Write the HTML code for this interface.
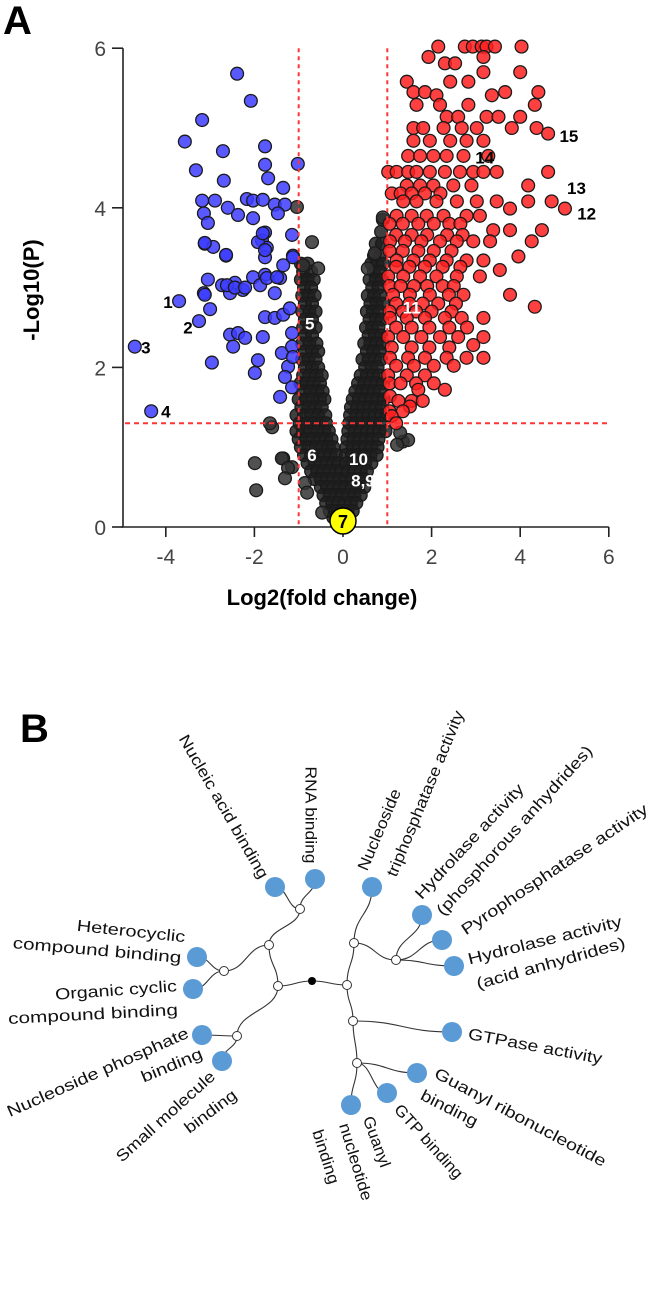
<!DOCTYPE html>
<html><head><meta charset="utf-8">
<style>
html,body{margin:0;padding:0;background:#fff;width:649px;height:1294px;overflow:hidden}
svg{display:block}
text{font-family:"Liberation Sans",Arial,sans-serif}
</style></head>
<body>
<svg id="chart" width="649" height="1294" viewBox="0 0 649 1294">
  <text x="3" y="34" font-size="40" font-weight="bold" fill="#000">A</text>
  <g id="plotA"></g>
  <text x="322" y="605" font-size="22" font-weight="bold" text-anchor="middle" fill="#000">Log2(fold change)</text>
  <text transform="translate(39,290) rotate(-90)" font-size="22" font-weight="bold" text-anchor="middle" fill="#000">-Log10(P)</text>
  <text x="20" y="742" font-size="40" font-weight="bold" fill="#000">B</text>
  <g id="tree"></g>
</svg>
<script>
// ---------- Panel A data ----------
const xTicks=[-4,-2,0,2,4,6];
const yTicks=[0,2,4,6];
const blueX=[-2.39,-2.08,-3.18,-3.57,-2.71,-1.76,-3.32,-1.76,-1.02,-2.69,-1.69,-1.35,-3.18,-2.89,-2.60,-2.17,-2.03,-1.81,-1.54,-1.31,-1.47,-2.37,-2.03,-3.14,-3.05,-1.76,-1.15,-1.83,-3.12,-2.93,-2.64,-1.72,-1.76,-1.35,-1.13,-3.05,-2.73,-2.44,-2.03,-1.76,-1.42,-2.26,-3.14,-2.55,-1.87,-1.54,-3.70,-3.25,-4.70,-4.33,-3.00,-3.12,-2.62,-2.44,-2.21,-2.55,-2.37,-2.21,-2.48,-2.96,-1.81,-1.92,-1.99,-1.76,-1.54,-1.35,-1.20,-1.38,-1.42,-1.24,-1.31,-1.15,-1.15,-1.15,-1.13,-1.72,-1.49,-1.92,-1.76,-1.13,-1.81,-3.12,-2.64];
const blueY=[5.68,5.34,5.10,4.83,4.71,4.77,4.47,4.54,4.55,4.34,4.37,4.25,4.09,4.09,4.00,4.11,4.09,4.10,4.04,4.04,3.93,3.91,3.87,3.93,3.81,3.69,3.66,3.59,3.55,3.51,3.40,3.50,3.38,3.28,3.40,3.10,3.03,3.06,3.13,3.16,3.12,2.97,2.93,2.93,3.03,2.93,2.83,2.58,2.26,1.45,2.73,2.91,3.03,3.00,3.00,2.41,2.43,2.37,2.26,2.06,2.38,2.09,1.93,2.63,2.62,2.66,2.74,2.18,1.63,2.01,1.88,1.75,2.43,2.26,2.13,3.12,3.13,3.57,3.47,3.38,3.68,3.56,3.41];
const redRowY=[6.02,5.89,5.81,5.70,5.58,5.45,5.41,5.29,5.14,5.00,4.93,4.84,4.65,4.45,4.28,4.18,4.08,3.99,3.90,3.80,3.72,3.66,3.58,3.46,3.39,3.34,3.26,3.22,3.14,3.02,2.91,2.80,2.76,2.70,2.62,2.50,2.38,2.28,2.25,2.12,2.02,1.90,1.80,1.72,1.64,1.58,1.51,1.45,1.39,1.30];
const redRowX=[[2.15,2.75,2.93,3.13,3.24,3.43,4.03],[1.93,3.17],[2.30,2.53],[3.17,4.00],[1.44,2.42,2.83],[1.59,1.85,3.66,4.41],[2.11,3.36],[1.66,2.19,2.83,4.33],[2.34,2.60,3.24,3.51,4.00],[1.59,1.81,2.27,2.68,3.02,3.81,4.37],[4.63],[1.59,1.96,2.42,2.79,3.17],[1.47,1.74,2.04,2.34,2.72,3.28],[1.02,1.21,1.47,1.66,1.96,2.30,2.64,2.94,3.17,3.47,4.63],[1.44,1.74,2.04,2.49,2.90,4.18],[1.10,1.30,1.55,1.85,2.20],[1.36,1.66,2.11,2.57,3.02,3.47,4.18,4.71],[5.01,3.77],[1.21,1.55,1.89,2.27,2.79,3.09],[1.05,1.35,1.70,2.05,2.40,2.65],[3.39,3.77,4.49],[1.20,1.55,1.90,2.35,2.70],[1.06,1.40,1.77,2.19,2.57,2.94,3.32,4.26],[1.05,1.35,1.70,2.05,2.45],[3.96],[1.21,1.59,1.96,2.34,2.79,3.17],[1.20,1.50,1.85,2.25,2.65],[3.54],[1.02,1.36,1.74,2.11,2.57,3.09],[1.05,1.30,1.60,1.90,2.25,2.50],[1.13,1.51,1.96,2.39,2.72,3.77],[1.20,1.50,1.80,2.15,2.55],[4.33],[1.05,1.35,1.65,2.00,2.45],[1.06,1.44,1.85,2.30,2.68,3.17],[1.20,1.55,1.95,2.40,2.80],[1.02,1.36,1.77,2.19,2.60,3.17],[2.94],[1.10,1.55,1.95,2.40],[1.06,1.47,1.85,2.34,2.79,3.17],[1.20,1.60,2.05,2.50],[1.02,1.44,1.85],[1.05,1.30,1.65,2.05],[1.70,2.30],[1.06],[1.25,1.55,1.80],[1.51],[1.05,1.35],[1.10],[1.20]];
const blackRowY=[3.3,3.2,3.1,3.0,2.9,2.8,2.7,2.6,2.5,2.4,2.3,2.2,2.1,2.0,1.9,1.8,1.7,1.6,1.5,1.4,1.3,1.2,1.1,1.0,0.9,0.8,0.7,0.6,0.5,0.4,0.3,0.2,0.12,
 3.85,3.7,3.55,3.4,3.3,3.2,3.1,3.0,2.9,2.8,2.7,2.6,2.5,2.4,2.3,2.2,2.1,2.0,1.9,1.8,1.7,1.6,1.5,1.4,1.3,1.2,1.1,1.0,0.9,0.8,0.7,0.6,0.5,0.4,0.3,0.2];
const blackRowX=[[-0.95,-0.80],[-0.90,-0.72],[-0.95,-0.80,-0.66],[-0.88,-0.72],[-0.92,-0.78,-0.64],[-0.86,-0.70],[-0.92,-0.76,-0.62],[-0.86,-0.70],[-0.90,-0.76,-0.62],[-0.86,-0.70],[-0.92,-0.76,-0.60],[-0.86,-0.70,-0.56],[-0.92,-0.78,-0.62],[-0.86,-0.70,-0.56],[-0.90,-0.76,-0.60,-0.48],[-0.96,-0.82,-0.66,-0.52],[-0.90,-0.74,-0.58,-0.46],[-1.00,-0.84,-0.68,-0.52,-0.42],[-0.94,-0.78,-0.62,-0.48],[-1.05,-0.88,-0.72,-0.56,-0.40],[-0.98,-0.82,-0.66,-0.50,-0.38],[-1.05,-0.90,-0.74,-0.58,-0.42,-0.32],[-1.00,-0.84,-0.68,-0.52,-0.38,-0.26],[-0.95,-0.78,-0.62,-0.46,-0.32,-0.22],[-0.88,-0.72,-0.56,-0.42,-0.28,-0.16],[-0.80,-0.64,-0.50,-0.36,-0.22,-0.10],[-0.72,-0.58,-0.44,-0.30,-0.16,-0.04],[-0.64,-0.50,-0.36,-0.22,-0.08,0.06],[-0.50,-0.36,-0.22,-0.08,0.06],[-0.44,-0.30,-0.16,-0.02],[-0.38,-0.24,-0.10,0.04],[-0.30,-0.16,-0.02],[-0.22,-0.08],
 [0.90],[0.86],[0.74,0.88],[0.70,0.84],[0.64,0.78,0.90],[0.70,0.84],[0.60,0.74,0.88],[0.66,0.80],[0.56,0.70,0.84],[0.62,0.76,0.90],[0.54,0.68,0.82],[0.60,0.74,0.88],[0.52,0.66,0.80],[0.58,0.72,0.86],[0.48,0.62,0.76,0.90],[0.54,0.68,0.82],[0.44,0.58,0.72,0.86],[0.50,0.64,0.78],[0.40,0.54,0.68,0.82],[0.34,0.48,0.62,0.76,0.90],[0.28,0.42,0.56,0.70,0.84],[0.22,0.36,0.50,0.64,0.78,0.92],[0.18,0.32,0.46,0.60,0.74,0.88],[0.16,0.30,0.44,0.58,0.72,0.86,1.00],[0.14,0.28,0.42,0.56,0.70,0.84],[0.12,0.26,0.40,0.54,0.68,0.82,0.96],[0.10,0.24,0.38,0.52,0.66,0.80],[0.08,0.22,0.36,0.50,0.64,0.78],[0.06,0.20,0.34,0.48,0.62,0.76],[0.08,0.22,0.36,0.50,0.64],[0.12,0.26,0.40,0.54],[0.20,0.34,0.48],[0.20,0.34,0.48],[0.12,0.26,0.40],[0.18,0.30],[0.10,0.22]];
const blackX=[-1.99,-1.96,-1.60,-1.35,-1.15,-0.86,-0.70,-0.56,-0.90,0.56,0.72,0.90,1.35,1.47,1.29,1.22,-1.04,-1.65,-1.38,-1.24,-1.31,-0.81,-0.47];
const blackY=[0.80,0.46,1.25,0.86,0.75,0.55,3.57,3.24,3.28,3.24,3.43,3.88,1.07,1.09,1.18,1.03,4.01,1.30,0.86,0.74,0.61,0.43,0.18];
const labelText=["1","2","3","4","5","6","10","8,9","11","12","13","14","15"];
const labelX=[-3.95,-3.5,-4.45,-4.0,-0.75,-0.70,0.35,0.45,1.55,5.50,5.27,3.20,5.10];
const labelY=[2.82,2.50,2.25,1.45,2.55,0.90,0.85,0.58,2.75,3.93,4.25,4.63,4.90];
const labelColor=["#000","#000","#000","#000","#fff","#fff","#fff","#fff","#fff","#000","#000","#000","#000"];
const sigP=1.3, fcLo=-1, fcHi=1;

const NS="http://www.w3.org/2000/svg";
const X0=343, XS=44.3, Y0=527, YS=79.8;
const sx=v=>X0+v*XS, sy=v=>Y0-v*YS;
const A=document.getElementById('plotA');
function mk(tag,attrs,parent){const e=document.createElementNS(NS,tag);for(const k in attrs)e.setAttribute(k,attrs[k]);parent.appendChild(e);return e;}

let ax=mk('line',{x1:sx(-5),x2:sx(6),y1:Y0,y2:Y0,stroke:'#222','stroke-width':1.6},A);


let ay=mk('line',{x1:123,x2:123,y1:sy(6),y2:Y0,stroke:'#222','stroke-width':1.6},A);


xTicks.forEach(t=>{
  const l=mk('line',{x1:sx(t),x2:sx(t),y1:Y0,y2:Y0+10,stroke:'#222','stroke-width':1.6},A);
  
  
  const tx=mk('text',{x:sx(t),y:Y0+37,'font-size':21,'text-anchor':'middle',fill:'#444'},A);
  tx.textContent=t;
  
  
});
yTicks.forEach(t=>{
  const l=mk('line',{x1:112,x2:123,y1:sy(t),y2:sy(t),stroke:'#222','stroke-width':1.6},A);
  
  
  const tx=mk('text',{x:106,y:sy(t)+8,'font-size':21,'text-anchor':'end',fill:'#444'},A);
  tx.textContent=t;
  
  
});
function pt(x,y,fill,op,name){
  const c=mk('circle',{cx:sx(x),cy:sy(y),r:6.4,fill:fill,'fill-opacity':op,stroke:'#1a1a1a','stroke-width':1.3},A);
  
  
}
blackRowY.forEach((y,i)=>blackRowX[i].forEach(x=>pt(x,y,'#1e1e1e',0.85,'point-ns')));
blackX.forEach((x,i)=>pt(x,blackY[i],'#333',0.85,'point-ns'));
blueX.forEach((x,i)=>pt(x,blueY[i],'#3c3cff',0.85,'point-down'));
redRowY.forEach((y,i)=>redRowX[i].forEach(x=>pt(x,y,'#ff1e1e',0.85,'point-up')));
[fcLo,fcHi].forEach(v=>{
  const l=mk('line',{x1:sx(v),x2:sx(v),y1:sy(6),y2:Y0,stroke:'#ff3535','stroke-width':2,'stroke-dasharray':'4,4'},A);
  
  
});
const hl=mk('line',{x1:125,x2:608,y1:sy(sigP),y2:sy(sigP),stroke:'#ff3535','stroke-width':2,'stroke-dasharray':'5,4'},A);


labelText.forEach((s,i)=>{
  const t=mk('text',{x:sx(labelX[i]),y:sy(labelY[i])+6,'font-size':17,'font-weight':'bold','text-anchor':'middle',fill:labelColor[i]},A);
  t.textContent=s;
  
  
});
const yc=mk('circle',{cx:sx(0),cy:Y0-6,r:13,fill:'#ffff00',stroke:'#000','stroke-width':1.5},A);


const y7=mk('text',{x:sx(0),y:Y0+1,'font-size':18,'font-weight':'bold','text-anchor':'middle',fill:'#000'},A);
y7.textContent='7';



// ---------- Panel B tree ----------
const T=document.getElementById('tree');
const nodes={root:[312,981],L:[278,986],R:[347,985],L1:[269,945],L2:[237,1036],L11:[300,909],L12:[224,971],
 R1:[354,943],R2:[353,1021],R12:[396,960],R22:[357,1063],
 nuc:[275,887],rna:[315,879],het:[197,957],org:[193,989],nph:[202,1035],sml:[222,1061],
 ntp:[372,887],hpa:[422,915],pyr:[442,940],haa:[454,966],gtpase:[452,1032],gr:[417,1073],gtp:[387,1093],gn:[351,1105]};
const edges=[['root','L'],['root','R'],['L','L1'],['L','L2'],['L1','L11'],['L1','L12'],['L11','nuc'],['L11','rna'],['L12','het'],['L12','org'],['L2','nph'],['L2','sml'],
 ['R','R1'],['R','R2'],['R1','ntp'],['R1','R12'],['R12','hpa'],['R12','pyr'],['R12','haa'],['R2','gtpase'],['R2','R22'],['R22','gr'],['R22','gtp'],['R22','gn']];
edges.forEach(([a,b])=>{
  const p=nodes[a],c=nodes[b];
  let d;
  if(Math.abs(c[0]-p[0])>=Math.abs(c[1]-p[1])){const m=(p[0]+c[0])/2;d=`M${p[0]},${p[1]} C${m},${p[1]} ${m},${c[1]} ${c[0]},${c[1]}`;}
  else{const m=(p[1]+c[1])/2;d=`M${p[0]},${p[1]} C${p[0]},${m} ${c[0]},${m} ${c[0]},${c[1]}`;}
  const e=mk('path',{d:d,fill:'none',stroke:'#333','stroke-width':1.1},T);
  
  
});
['L','R','L1','L2','L11','L12','R1','R2','R12','R22'].forEach(k=>{
  const c=mk('circle',{cx:nodes[k][0],cy:nodes[k][1],r:4.5,fill:'#fff',stroke:'#333','stroke-width':1},T);
  
  
});
const r0=mk('circle',{cx:nodes.root[0],cy:nodes.root[1],r:4,fill:'#000'},T);


['nuc','rna','het','org','nph','sml','ntp','hpa','pyr','haa','gtpase','gr','gtp','gn'].forEach(k=>{
  const c=mk('circle',{cx:nodes[k][0],cy:nodes[k][1],r:10,fill:'#5b9bd5'},T);
  
  
});
const labs=[
 ["Nucleic acid binding",223,807,60,163],["RNA binding",310,815,90,97],["Nucleoside",380,830,-67,87],["triphosphatase activity",426,794,-67.5,178],
 ["Hydrolase activity",470,842,-47,151],["(phosphorous anhydrides)",515,831,-47.7,223],["Pyrophosphatase activity",555,870,-34,221],
 ["Hydrolase activity",545,941,-14,158],["(acid anhydrides)",551,964,-15.7,154],["GTPase activity",535,1047,10.6,136],
 ["Guanyl ribonucleotide",520,1118,28,192],["binding",449,1109,27,62],["GTP binding",428,1142,48,94],
 ["Guanyl",376,1142,70,53],["nucleotide",355,1162,73,80],["binding",325,1157,72,56],
 ["Heterocyclic",131,932,6,109],["compound binding",97,951,5,169],["Organic cyclic",116,991,-4,122],["compound binding",93,1015,-3,170],
 ["Nucleoside phosphate",98,1073,-24,197],["binding",172,1066,-22.6,65],["Small molecule",166,1117,-42,127],["binding",211,1112,-37,61]];
labs.forEach(([s,x,y,a,len])=>{
  const t=mk('text',{transform:`translate(${x},${y}) rotate(${a})`,'font-size':16,'text-anchor':'middle','dominant-baseline':'central',fill:'#111',textLength:len,lengthAdjust:'spacingAndGlyphs'},T);
  t.textContent=s;
  
  
});
</script>
</body></html>
